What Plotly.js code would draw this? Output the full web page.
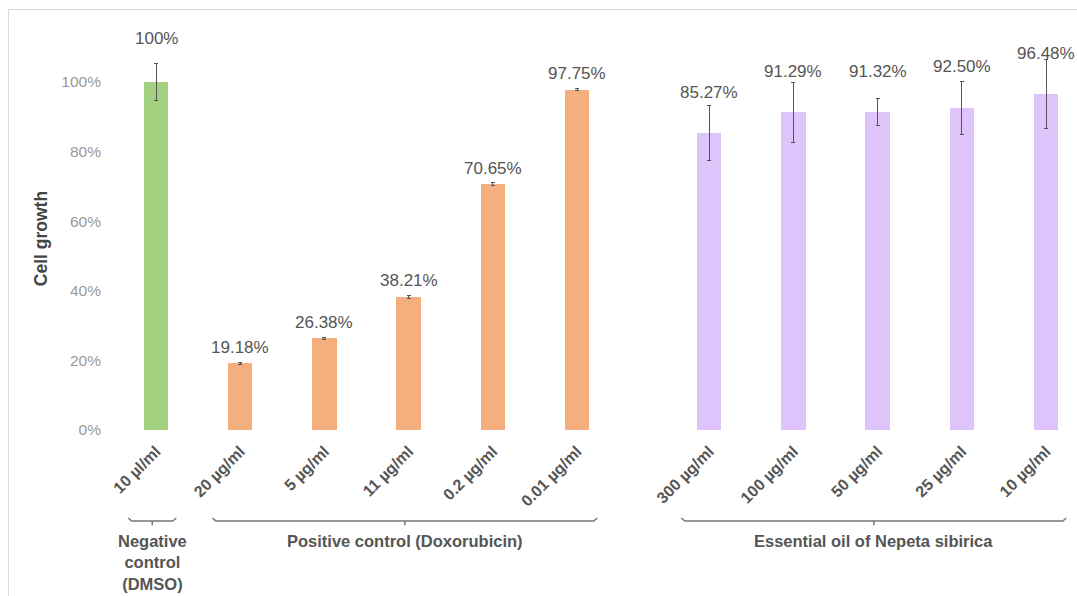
<!DOCTYPE html>
<html>
<head>
<meta charset="utf-8">
<script src="https://cdn.plot.ly/plotly-3.0.1.min.js"></script>
<style>
  html, body { margin: 0; padding: 0; background: #fff; }
  #wrap { position: relative; width: 1077px; height: 596px; }
  #chart { width: 1077px; height: 596px; }
  #frame { position: absolute; left: 8px; top: 9px; right: 0; bottom: 0;
           border-top: 1px solid #dcdcdc; border-left: 1px solid #dcdcdc; pointer-events: none; }
</style>
</head>
<body>
<div id="wrap"><div id="chart"></div><div id="frame"></div></div>
<script>
// ---- data ----
const categories = ['10 µl/ml', '20 µg/ml', '5 µg/ml', '11 µg/ml', '0.2 µg/ml', '0.01 µg/ml',
                    '300 µg/ml', '100 µg/ml', '50 µg/ml', '25 µg/ml', '10 µg/ml'];
const values = [100, 19.18, 26.38, 38.21, 70.65, 97.75, 85.27, 91.29, 91.32, 92.50, 96.48];
const errors = [5.3, 0.3, 0.3, 0.3, 0.3, 0.3, 8.0, 8.6, 3.9, 7.6, 10.0];
const valueLabels = ['100%', '19.18%', '26.38%', '38.21%', '70.65%', '97.75%',
                     '85.27%', '91.29%', '91.32%', '92.50%', '96.48%'];
const groupOfBar = [0, 1, 1, 1, 1, 1, 2, 2, 2, 2, 2];
const groupNames = ['Negative<br>control<br>(DMSO)', 'Positive control (Doxorubicin)', 'Essential oil of Nepeta sibirica'];
const groupColors = ['#a2d07f', '#f5ae7d', '#dfc4fb'];
const yTicks = [0, 20, 40, 60, 80, 100];

// ---- layout helpers ----
const FONT = 'Liberation Sans, Arial, sans-serif';
const groupGap = [0, 0, 0.571];
const labelOffsetPx = [43, 16, 41];
const xPos = values.map((v, i) => i + groupGap[groupOfBar[i]]);

const traces = groupNames.map((g, gi) => {
  const idx = values.map((v, i) => i).filter(i => groupOfBar[i] === gi);
  return {
    type: 'bar',
    x: idx.map(i => xPos[i]),
    y: idx.map(i => values[i]),
    width: 0.29,
    marker: { color: groupColors[gi] },
    error_y: { type: 'data', array: idx.map(i => errors[i]), visible: true,
               color: '#555', thickness: 1, width: 2 },
    hoverinfo: 'y',
    showlegend: false
  };
});

const annotations = values.map((v, i) => ({
  x: xPos[i], y: v, xref: 'x', yref: 'y',
  text: valueLabels[i], showarrow: false, yanchor: 'middle', yshift: labelOffsetPx[groupOfBar[i]],
  font: { family: FONT, size: 17, color: '#555' }
}));

const shapes = [];
const bracketY = -0.2376, tickDn = 0.011, endUp = 0.008;
groupNames.forEach((g, gi) => {
  const xs = xPos.filter((x, i) => groupOfBar[i] === gi);
  const x0 = Math.min(...xs) - 0.33, x1 = Math.max(...xs) + 0.24;
  const xc = (x0 + x1) / 2;
  shapes.push({
    type: 'path', xref: 'x', yref: 'paper',
    path: `M ${x0} ${bracketY + endUp} L ${x0 + 0.04} ${bracketY} L ${x1 - 0.04} ${bracketY} L ${x1} ${bracketY + endUp} M ${xc} ${bracketY} L ${xc} ${bracketY - tickDn}`,
    line: { color: '#777', width: 1.5 }
  });
  annotations.push({
    x: xc, y: -0.262, xref: 'x', yref: 'paper',
    text: g, showarrow: false, yanchor: 'top',
    font: { family: FONT, size: 16.5, color: '#555', weight: 'bold' }
  });
});

const layout = {
  width: 1077, height: 596,
  margin: { l: 108, r: 10, t: 47, b: 166 },
  paper_bgcolor: '#fff', plot_bgcolor: '#fff',
  bargap: 0,
  xaxis: {
    type: 'linear', range: [-0.571, 10.82],
    tickvals: xPos, ticktext: categories, tickangle: -45,
    showgrid: false, zeroline: false, showline: false, ticks: '',
    ticklabelstandoff: 8,
    tickfont: { family: FONT, size: 16, color: '#555', weight: 'bold' }
  },
  yaxis: {
    range: [0, 110], tickvals: yTicks, ticktext: yTicks.map(t => t + '%'),
    showgrid: false, zeroline: false, showline: false, ticks: '',
    ticklabelstandoff: 6,
    tickfont: { family: FONT, size: 15.5, color: '#999' },
    title: { text: 'Cell growth', standoff: 9,
             font: { family: FONT, size: 17.5, color: '#444', weight: 'bold' } }
  },
  shapes: shapes,
  annotations: annotations
};

Plotly.newPlot('chart', traces, layout, { displayModeBar: false, staticPlot: true });
</script>
</body>
</html>
